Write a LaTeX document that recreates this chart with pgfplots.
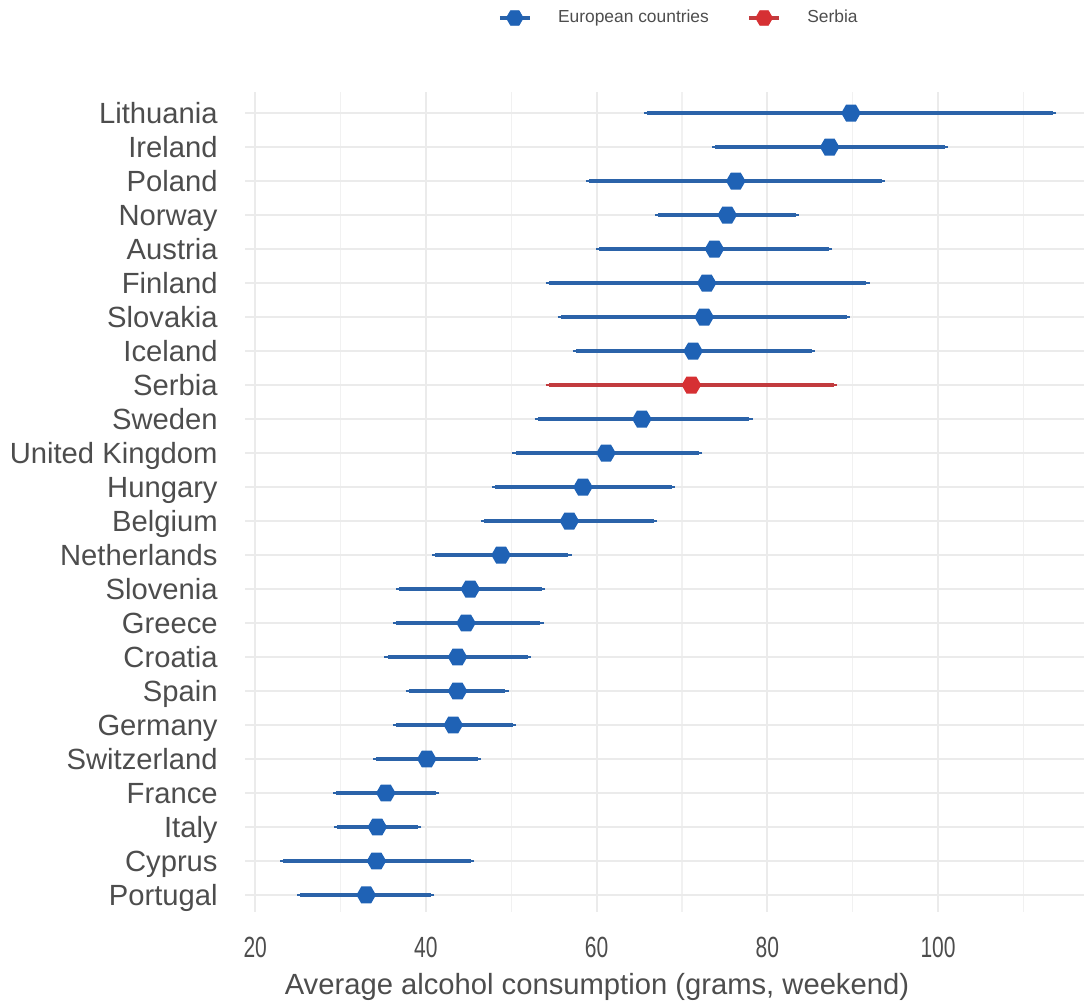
\documentclass[border=0pt]{standalone}
\usepackage{fontspec}
\setmainfont{Liberation Sans}
\usepackage{graphicx}
\usepackage{pgfplots}
\pgfplotsset{compat=1.18}
\usepackage{pgfplotstable}
\definecolor{bluebar}{HTML}{2B63A9}
\definecolor{bluemark}{HTML}{1F62B5}
\definecolor{redbar}{HTML}{C23B3E}
\definecolor{redmark}{HTML}{D63033}
\definecolor{gridc}{HTML}{EBEBEB}
\definecolor{txt}{HTML}{4D4D4D}

\pgfdeclareplotmark{hex}{%
  \pgfpathmoveto{\pgfpointpolar{0}{\pgfplotmarksize}}%
  \pgfpathlineto{\pgfpointpolar{60}{\pgfplotmarksize}}%
  \pgfpathlineto{\pgfpointpolar{120}{\pgfplotmarksize}}%
  \pgfpathlineto{\pgfpointpolar{180}{\pgfplotmarksize}}%
  \pgfpathlineto{\pgfpointpolar{240}{\pgfplotmarksize}}%
  \pgfpathlineto{\pgfpointpolar{300}{\pgfplotmarksize}}%
  \pgfpathclose\pgfusepathqfill}

\pgfplotstableread{
y m lo hi
24 89.8 65.9 113.5
23 87.3 73.9 100.8
22 76.3 59.1 93.4
21 75.3 67.2 83.3
20 73.8 60.3 87.2
19 72.9 54.4 91.6
18 72.6 55.8 89.3
17 71.3 57.6 85.2
15 65.3 53.1 77.9
14 61.1 50.5 72.0
13 58.4 48.1 68.8
12 56.8 46.8 66.7
11 48.8 41.1 56.7
10 45.2 36.9 53.6
9 44.7 36.5 53.4
8 43.7 35.5 51.9
7 43.7 38.0 49.3
6 43.2 36.5 50.2
5 40.1 34.2 46.1
4 35.3 29.5 41.2
3 34.3 29.6 39.1
2 34.2 23.3 45.3
1 33.0 25.3 40.6
}\europe
\pgfplotstableread{
y m lo hi
16 71.1 54.4 87.8
}\serbia

\begin{document}
\begin{tikzpicture}
\useasboundingbox (0,0) rectangle (542pt,502pt);
\begin{axis}[
  at={(122.5pt,46pt)}, anchor=south west,
  scale only axis, width=419.5pt, height=410pt,
  xmin=18.8, xmax=117.1, ymin=0.5, ymax=24.62,
  axis line style={draw=none},
  major tick length=0pt, minor tick length=0pt,
  /pgf/number format/assume math mode=true,
  xtick={20,40,60,80,100}, minor xtick={30,50,70,90,110},
  ytick={1,...,24},
  yticklabels={Portugal,Cyprus,Italy,France,Switzerland,Germany,Spain,Croatia,Greece,Slovenia,Netherlands,Belgium,Hungary,United Kingdom,Sweden,Serbia,Iceland,Slovakia,Finland,Austria,Norway,Poland,Ireland,Lithuania},
  xmajorgrids, xminorgrids, ymajorgrids,
  major grid style={draw=gridc, line width=1.1pt},
  minor grid style={draw=gridc!70!white, line width=0.6pt},
  tick label style={font=\fontsize{14.6}{17}\selectfont, text=txt},
  yticklabel style={anchor=base east, inner sep=0pt, xshift=-13.5pt, yshift=-5.2pt},
  xticklabel style={anchor=base, inner sep=0pt, yshift=-23pt},
  xticklabel={\scalebox{0.72}[1]{\pgfmathprintnumber{\tick}}},
  xlabel={Average alcohol consumption (grams, weekend)},
  xlabel style={at={(axis description cs:0.4195,0)}, anchor=base, yshift=-41.5pt, font=\fontsize{14.6}{17}\selectfont, text=txt},
  legend style={at={(axis description cs:0.518,1)}, anchor=center, yshift=37pt,
    draw=none, fill=none, legend columns=2, font=\fontsize{8.7}{10}\selectfont, text=txt,
    /tikz/every odd column/.append style={column sep=11pt},
    /tikz/every even column/.append style={column sep=17pt}},
  legend cell align=left,
]
\addlegendimage{legend image code/.code={\draw[bluebar,line width=2.2pt] (0pt,0pt)--(15pt,0pt); \fill[bluemark, shift={(7.5pt,0pt)}] (0:4.2pt)--(60:4.2pt)--(120:4.2pt)--(180:4.2pt)--(240:4.2pt)--(300:4.2pt)--cycle;}}
\addlegendentry{European countries}
\addlegendimage{legend image code/.code={\draw[redbar,line width=2.2pt] (0pt,0pt)--(15pt,0pt); \fill[redmark, shift={(7.5pt,0pt)}] (0:4.2pt)--(60:4.2pt)--(120:4.2pt)--(180:4.2pt)--(240:4.2pt)--(300:4.2pt)--cycle;}}
\addlegendentry{Serbia}

\addplot[forget plot, only marks, mark=hex, mark size=4.9pt, color=bluemark,
  error bars/.cd, x dir=both, x explicit,
  error bar style={draw=bluebar, line width=2pt},
  error mark options={draw=bluebar, line width=1.3pt, mark size=1.6pt}]
  table[x=m, y=y, x error plus expr=\thisrow{hi}-\thisrow{m}, x error minus expr=\thisrow{m}-\thisrow{lo}]{\europe};
\addplot[forget plot, only marks, mark=hex, mark size=4.9pt, color=redmark,
  error bars/.cd, x dir=both, x explicit,
  error bar style={draw=redbar, line width=2pt},
  error mark options={draw=redbar, line width=1.3pt, mark size=1.6pt}]
  table[x=m, y=y, x error plus expr=\thisrow{hi}-\thisrow{m}, x error minus expr=\thisrow{m}-\thisrow{lo}]{\serbia};
\end{axis}
\end{tikzpicture}
\end{document}
